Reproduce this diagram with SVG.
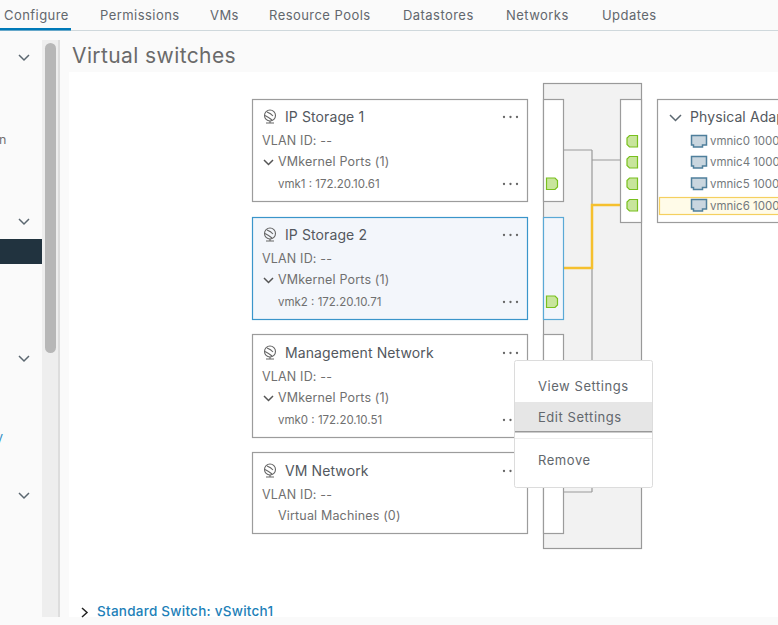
<svg xmlns="http://www.w3.org/2000/svg" width="778" height="625" viewBox="0 0 778 625">
<style>
text{font-family:"Inter","Noto Sans","Liberation Sans",sans-serif;fill:#565656;font-size:13px}
.tab{font-size:13px;fill:#62676d;letter-spacing:.45px}
.t{font-size:14px;fill:#53585e;letter-spacing:.1px}
.s{font-size:12.5px;fill:#707070;letter-spacing:.17px}
.x{font-size:11.5px;fill:#707070}
.m{font-size:13px;fill:#62676d;letter-spacing:.55px}
.n{font-size:11.5px;fill:#74797d}
.card{fill:#fff;stroke:#9c9c9c;stroke-width:1.2}
.sel{fill:#f3f6fb;stroke:#3a95ca;stroke-width:1.2}
.wire{fill:none;stroke:#999;stroke-width:1.2}
.hot{fill:none;stroke:#f5c02e;stroke-width:2.5}
.chev{fill:none;stroke:#5b6770;stroke-width:1.5}
.dot{fill:#666}
.port{fill:#c8e59c;stroke:#79c01e;stroke-width:1.2}
.nic{fill:#c9d6df;stroke:#4f7f9c;stroke-width:1.5}
.ic{fill:none;stroke:#666;stroke-width:1.1}
</style>
<defs>
<g id="dots"><circle cx="0" cy="0" r="1.15" class="dot"/><circle cx="6.500" cy="0" r="1.15" class="dot"/><circle cx="13" cy="0" r="1.15" class="dot"/></g>
<g id="globe"><circle cx="0" cy="-1.500" r="5.500" class="ic"/><path d="M-3-5Q1-3.500 3-1M-5-1.500Q-1 .5 2 3M-4 6H4M0 4V6" class="ic"/></g>
<path id="portR" d="M546.500 0H555L557.500 2.500V9L555 11.500H546.500Z" class="port"/>
<path id="portL" d="M629.500 0H637.500V11.500H629.500L627 9V2.500Z" class="port"/>
<path id="nicI" d="M0 0H15V9.500H11V11.500H2V9.500H0Z" class="nic"/>
</defs>
<rect width="778" height="625" fill="#fafafa"/>
<g id="tabs">
<rect x="0" y="30" width="778" height="1" fill="#cfd8dc"/>
<rect x="0" y="28" width="71" height="2.500" fill="#0079b8"/>
<text x="4" y="20" class="tab">Configure</text>
<text x="100" y="20" class="tab">Permissions</text>
<text x="210" y="20" class="tab">VMs</text>
<text x="269" y="20" class="tab">Resource Pools</text>
<text x="403" y="20" class="tab">Datastores</text>
<text x="506" y="20" class="tab">Networks</text>
<text x="602" y="20" class="tab">Updates</text>
</g>
<g id="sidebar">
<rect x="42" y="40" width="18" height="577" fill="#eee"/>
<rect x="58" y="40" width="2" height="577" fill="#ddd"/>
<rect x="45" y="43" width="11" height="310" rx="5.500" fill="#b7b7b7"/>
<rect x="0" y="239" width="42" height="25" fill="#21333f"/>
<path class="chev" d="M19 55l5 5 5-5M19 219l5 5 5-5M19 356l5 5 5-5M19 493l5 5 5-5"/>
<text x="-1" y="144" class="s">n</text>
<text x="-4" y="441" class="s" style="fill:#2f8fc6">y</text>
</g>
<rect x="69" y="72" width="709" height="545" fill="#fff"/>
<text x="72" y="63" style="font-size:21px;fill:#6a6a6a;letter-spacing:.4px">Virtual switches</text>
<g id="switch">
<rect x="543.500" y="83.500" width="98" height="465" fill="#f2f2f2" stroke="#999" stroke-width="1.200"/>
</g>
<g id="connectors">
<path class="wire" d="M564 150H592M592 150V492M564 492H592M592 160H620"/>
<path class="hot" d="M564 268H592V205H620"/>
</g>
<g id="portgroup-tails">
<rect x="543.500" y="99.500" width="20" height="102" class="card"/>
<rect x="543.500" y="217.500" width="20" height="102" class="sel" style="stroke:#5aa9d6"/>
<rect x="543.500" y="334.500" width="20" height="103" class="card"/>
<rect x="543.500" y="452.500" width="20" height="81" class="card"/>
</g>
<g id="ip-storage-1">
<rect x="252.500" y="99.500" width="275" height="102" class="card"/>
<use href="#globe" x="270" y="117"/>
<text x="285" y="122" class="t">IP Storage 1</text>
<use href="#dots" x="504" y="117"/>
<text x="262" y="145" class="s">VLAN ID: --</text>
<path class="chev" style="stroke:#555" d="M264 160l4.500 4.500 4.500-4.500"/>
<text x="278" y="166" class="s">VMkernel Ports (1)</text>
<text x="278" y="188" class="x">vmk1 : 172.20.10.61</text>
<use href="#dots" x="504" y="184"/>
</g>
<g id="ip-storage-2">
<rect x="252.500" y="217.500" width="275" height="102" class="sel"/>
<use href="#globe" x="270" y="235"/>
<text x="285" y="240" class="t">IP Storage 2</text>
<use href="#dots" x="504" y="235"/>
<text x="262" y="263" class="s">VLAN ID: --</text>
<path class="chev" style="stroke:#555" d="M264 278l4.500 4.500 4.500-4.500"/>
<text x="278" y="284" class="s">VMkernel Ports (1)</text>
<text x="278" y="306" class="x">vmk2 : 172.20.10.71</text>
<use href="#dots" x="504" y="302"/>
</g>
<g id="management-network">
<rect x="252.500" y="334.500" width="275" height="103" class="card"/>
<use href="#globe" x="270" y="353"/>
<text x="285" y="358" class="t">Management Network</text>
<use href="#dots" x="504" y="353"/>
<text x="262" y="381" class="s">VLAN ID: --</text>
<path class="chev" style="stroke:#555" d="M264 396l4.500 4.500 4.500-4.500"/>
<text x="278" y="402" class="s">VMkernel Ports (1)</text>
<text x="278" y="424" class="x">vmk0 : 172.20.10.51</text>
<use href="#dots" x="504" y="420"/>
</g>
<g id="vm-network">
<rect x="252.500" y="452.500" width="275" height="81" class="card"/>
<use href="#globe" x="270" y="471"/>
<text x="285" y="476" class="t">VM Network</text>
<use href="#dots" x="504" y="471"/>
<text x="262" y="499" class="s">VLAN ID: --</text>
<text x="278" y="520" class="s">Virtual Machines (0)</text>
</g>
<g id="ports">
<use href="#portR" y="178"/>
<use href="#portR" y="296"/>
</g>
<g id="uplinks">
<rect x="620.500" y="99.500" width="21" height="123" class="card"/>
<use href="#portL" y="135.500"/>
<use href="#portL" y="156.500"/>
<use href="#portL" y="178"/>
<use href="#portL" y="199.500"/>
</g>
<g id="physical-adapters">
<rect x="657.500" y="99.500" width="125" height="123" class="card"/>
<path class="chev" d="M670 115l5.500 5.500 5.500-5.500"/>
<text x="690" y="122" class="t">Physical Adap</text>
<rect x="659.500" y="197.500" width="125" height="17" fill="#fffbe8" stroke="#f5d060" stroke-width="1.200"/>
<use href="#nicI" x="691.500" y="135.500"/>
<text x="710" y="145" class="n">vmnic0 1000</text>
<use href="#nicI" x="691.500" y="156.500"/>
<text x="710" y="166" class="n">vmnic4 1000</text>
<use href="#nicI" x="691.500" y="178"/>
<text x="710" y="188" class="n">vmnic5 1000</text>
<use href="#nicI" x="691.500" y="199.500"/>
<text x="710" y="210" class="n">vmnic6 1000</text>
</g>
<g id="context-menu">
<rect x="514.500" y="360.500" width="138" height="127" rx="2" fill="#fff" stroke="#dcdcdc"/>
<rect x="515" y="402" width="137" height="29" fill="#e6e6e6"/>
<rect x="515" y="431" width="137" height="1.500" fill="#999"/>
<rect x="515" y="438" width="137" height="1" fill="#eee"/>
<text x="538" y="391" class="m">View Settings</text>
<text x="538" y="422" class="m">Edit Settings</text>
<text x="538" y="465" class="m">Remove</text>
</g>
<g id="vswitch1">
<path fill="none" stroke="#222" stroke-width="1.500" d="M82 608l5 4.500-5 4.500"/>
<text x="97" y="616" style="font-size:13.500px;font-weight:500;fill:#1d7fb8;letter-spacing:.25px">Standard Switch: vSwitch1</text>
</g>
</svg>
